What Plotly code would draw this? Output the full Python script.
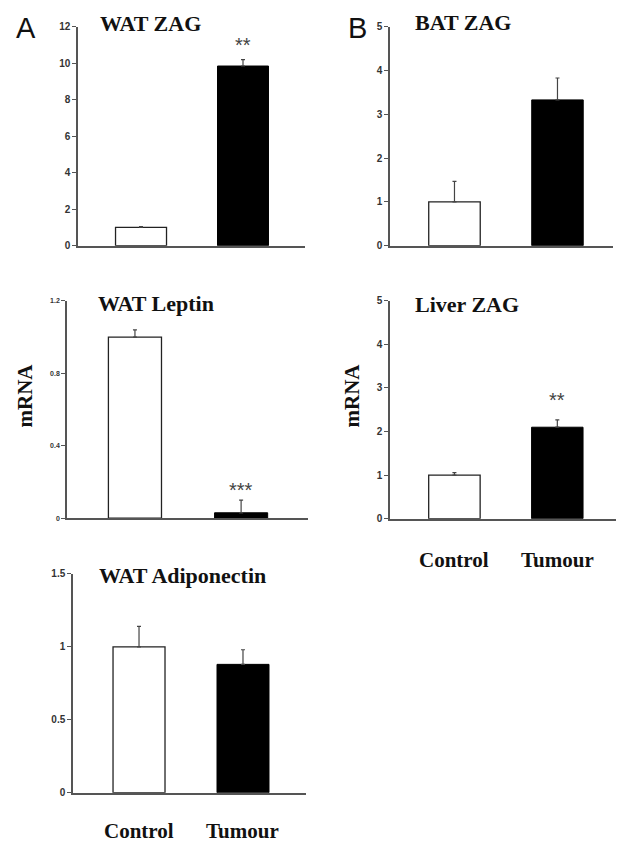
import plotly.graph_objects as go

# ---------------- data ----------------
panel_titles = ["WAT ZAG", "BAT ZAG", "WAT Leptin", "Liver ZAG", "WAT Adiponectin"]
groups = ["Control", "Tumour"]
control_means = [1.0, 1.0, 1.0, 1.0, 1.0]
control_errs = [0.05, 0.47, 0.04, 0.06, 0.14]
tumour_means = [9.85, 3.33, 0.03, 2.10, 0.88]
tumour_errs = [0.35, 0.50, 0.07, 0.17, 0.10]
significance = ["**", "", "***", "**", ""]
sig_levels = [11.0, None, 0.155, 2.72, None]
y_tick_values = [
    [0, 2, 4, 6, 8, 10, 12],
    [0, 1, 2, 3, 4, 5],
    [0, 0.4, 0.8, 1.2],
    [0, 1, 2, 3, 4, 5],
    [0, 0.5, 1, 1.5],
]
y_tick_labels = [
    ["0", "2", "4", "6", "8", "10", "12"],
    ["0", "1", "2", "3", "4", "5"],
    ["0", "0.4", "0.8", "1.2"],
    ["0", "1", "2", "3", "4", "5"],
    ["0", "0.5", "1", "1.5"],
]
y_max = [12, 5, 1.2, 5, 1.5]

# ---------------- layout geometry (window pixels) ----------------
# the page body has an 8px default margin, so the figure is drawn 8px in
OFF = 8
W, H = 624 - OFF, 851 - OFF
# x0, x1, ytop, ybottom, xrange
geom = [
    (78, 305, 21, 243, [-0.618, 1.608]),
    (390, 613, 21, 243, [-0.626, 1.539]),
    (67, 308, 299, 519.5, [-0.64, 1.63]),
    (390, 617, 299, 520, [-0.626, 1.58]),
    (73, 306, 576, 798, [-0.635, 1.606]),
]
tick_font_sizes = [10, 10, 7, 10, 10]
title_pos = [(150, 18), (463, 17), (156, 302), (467, 303), (182, 578)]


def px(x):
    return (x - OFF) / W


def py(y):
    return 1 - (y - OFF) / H


fig = go.Figure()
layout = dict(
    width=W, height=H, margin=dict(l=0, r=0, t=0, b=0),
    paper_bgcolor="white", plot_bgcolor="white", showlegend=False,
    barmode="overlay",
)
annotations = []
serif = "Liberation Serif, Times New Roman, serif"
sans = "Liberation Sans, Arial, sans-serif"

for i in range(5):
    n = "" if i == 0 else str(i + 1)
    x0, x1, yt, yb, xr = geom[i]
    # control bar
    fig.add_trace(go.Bar(
        x=[0], y=[control_means[i]], width=0.5,
        marker=dict(color="white", line=dict(color="#222222", width=1.3)),
        error_y=dict(type="data", symmetric=False, array=[control_errs[i]], arrayminus=[0],
                     color="#444444", thickness=1.2, width=2),
        xaxis="x" + n, yaxis="y" + n,
    ))
    # tumour bar
    fig.add_trace(go.Bar(
        x=[1], y=[tumour_means[i]], width=0.5,
        marker=dict(color="black", line=dict(color="black", width=1)),
        error_y=dict(type="data", symmetric=False, array=[tumour_errs[i]], arrayminus=[0],
                     color="#444444", thickness=1.2, width=2),
        xaxis="x" + n, yaxis="y" + n,
    ))
    layout["xaxis" + n] = dict(
        domain=[px(x0), px(x1)], range=xr, anchor="y" + n,
        showline=True, linecolor="#555555", linewidth=1.5,
        showticklabels=False, ticks="", showgrid=False, zeroline=False, fixedrange=True,
    )
    layout["yaxis" + n] = dict(
        domain=[py(yb), py(yt)], range=[0, y_max[i]], anchor="x" + n,
        showline=True, linecolor="#555555", linewidth=1.5,
        tickmode="array", tickvals=y_tick_values[i], ticktext=y_tick_labels[i],
        ticks="outside", ticklen=4, tickwidth=1.2, tickcolor="#555555",
        tickfont=dict(family=sans, size=tick_font_sizes[i], color="#333333", weight="bold"),
        showgrid=False, zeroline=False, fixedrange=True,
    )
    tx, ty = title_pos[i]
    annotations.append(dict(
        text=panel_titles[i], x=px(tx), y=py(ty), xref="paper", yref="paper",
        xanchor="center", yanchor="middle", showarrow=False,
        font=dict(family=serif, size=22, color="#111111", weight="bold"),
    ))
    if significance[i]:
        annotations.append(dict(
            text=significance[i], x=1, y=sig_levels[i], xref="x" + n, yref="y" + n,
            xanchor="center", yanchor="middle", showarrow=False,
            font=dict(family=sans, size=20, color="#444444"),
        ))

# group labels under bottom panels
for n, ylab in [("5", 837), ("4", 562)]:
    for gx, g in enumerate(groups):
        annotations.append(dict(
            text=g, x=gx, y=py(ylab), xref="x" + n, yref="paper",
            xanchor="center", yanchor="middle", showarrow=False,
            font=dict(family=serif, size=21, color="#111111", weight="bold"),
        ))

# mRNA axis labels
for x_lab in (25, 352):
    annotations.append(dict(
        text="mRNA", x=px(x_lab), y=py(395), xref="paper", yref="paper",
        xanchor="center", yanchor="middle", showarrow=False, textangle=-90,
        font=dict(family=serif, size=21, color="#111111", weight="bold"),
    ))

# panel letters
for letter, lx, ly in [("A", 26, 22), ("B", 357, 22)]:
    annotations.append(dict(
        text=letter, x=px(lx), y=py(ly), xref="paper", yref="paper",
        xanchor="center", yanchor="middle", showarrow=False,
        font=dict(family=sans, size=29, color="#111111"),
    ))

layout["annotations"] = annotations
fig.update_layout(**layout)
fig.write_html("out.html")
